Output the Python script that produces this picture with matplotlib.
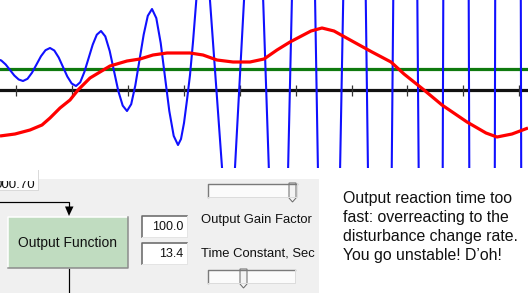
import matplotlib.pyplot as plt
from matplotlib.patches import Rectangle, Polygon

# chart data: x in samples (one per screen column), y in display units above the zero line
red_t = [0, 15, 30, 42, 50, 60, 70, 78, 90, 100, 110, 127, 140, 153, 167, 180, 190,
         203, 217, 233, 250, 264, 277, 290, 311, 322, 334, 352, 372, 391, 404, 424,
         442, 467, 486, 497, 512, 528]
red_v = [-46, -44, -40, -35, -28, -18, -10, 0, 12, 18, 24, 29, 31, 35, 37, 37, 37,
         35, 30, 28, 28, 31, 40, 48, 59, 62, 59, 49, 38, 28, 16, 0,
         -15, -32, -43, -47, -44, -38]

blue_t = [-3, 1.3, 5.7, 10, 14.3, 18.7,
          23, 27.5, 32, 36.5, 41, 45.5,
          50, 54.3, 58.7, 63, 67.3, 71.7,
          76, 80.2, 84.3, 88.5, 92.7, 96.8,
          101, 105.3, 109.7, 114, 118.3, 122.7,
          127, 131.2, 135.3, 139.5, 143.7, 147.8,
          152, 156.3, 160.7, 165, 169.3, 173.7,
          178, 181, 184, 187, 190, 193, 196, 199, 204,
          209.6, 222.4, 228.5, 234.7, 244.3, 253.5,
          263, 269, 278.5, 288, 292, 303.5,
          315, 318, 329, 340, 343.3, 354.5,
          365.7, 368, 380, 391.7, 393.3, 405,
          417.3, 418.7, 430.5, 442.7, 443.3, 456,
          468.7, 469.3, 482, 494.8, 495.2, 508,
          520.8, 521.2, 534]
blue_v = [31, 29.5, 25.5, 20, 14.5, 10.5,
          9, 11.2, 17.3, 25.5, 33.8, 39.8,
          42, 39.5, 32.5, 23, 13.5, 6.5,
          4, 7.7, 17.8, 31.5, 45.3, 55.3,
          59, 53.6, 39, 19, -1, -15.6,
          -21, -14.2, 4.5, 30, 55.5, 74.2,
          81, 71.9, 47, 13, -21, -45.9,
          -55, -49, -33, -10, 15, 48, 86, 125, 160,
          95, -83, -300, -83, 95, 300,
          95, -83, -300, -83, 95, 300,
          95, -83, -300, -83, 95, 300,
          95, -83, -300, -83, 95, 300,
          95, -83, -300, -83, 95, 300,
          95, -83, -300, -83, 95, 300,
          95, -83, -300]

setpoint = 21
tick_t = [16, 72, 128, 184, 240, 296, 352, 407, 463, 519]

prev_value = "000.70"
gain_value = "100.0"
tc_value = "13.4"
gain_label = "Output Gain Factor"
tc_label = "Time Constant, Sec"
button_label = "Output Function"
note_lines = ["Output reaction time too",
              "fast: overreacting to the",
              "disturbance change rate.",
              "You go unstable! D\u2019oh!"]

plt.rcParams['font.family'] = ['Liberation Sans', 'DejaVu Sans']

fig = plt.figure(figsize=(5.28, 2.93), dpi=100)

# control panel drawn in screen pixels
pan = fig.add_axes([0, 0, 1, 1])
pan.set_xlim(0, 528)
pan.set_ylim(293, 0)
pan.axis('off')

px = 0.72  # one pixel in points
pan.add_patch(Rectangle((0, 179), 319, 114, fc='#f0f0f0', ec='none'))

# clipped value box at top left
pan.add_patch(Rectangle((-2, 170), 40, 20, fc='white', ec='none'))
pan.plot([38, 38], [170, 190], color='#dadada', lw=px)
pan.plot([-2, 38], [190, 190], color='#dadada', lw=px)
clip = Rectangle((0, 181), 38, 10, transform=pan.transData)
t = pan.text(35.5, 188.5, prev_value, ha='right', va='baseline', fontsize=9.6,
             color='#111111', clip_on=True)
t.set_clip_path(clip)

# arrow into the button
pan.plot([0, 69, 69], [201.5, 201.5, 208], color='black', lw=px * 1.2)
pan.add_patch(Polygon([(65, 206.5), (73.5, 206.5), (69, 216)], fc='black', ec='none'))

# button
pan.add_patch(Rectangle((8, 217), 120, 51, fc='#c0dcc0', ec='none'))
pan.plot([8, 8, 128], [268, 217, 217], color='white', lw=px * 1.5)
pan.plot([8, 128, 128], [268, 268, 217], color='#8a8a8a', lw=px * 1.5)
pan.text(68, 243, button_label, ha='center', va='center', fontsize=10, color='#111111')
pan.plot([69, 69], [269, 293], color='black', lw=px * 1.2)

# numeric boxes
for y0, txt in [(216, gain_value), (243, tc_value)]:
    pan.add_patch(Rectangle((142, y0), 45, 21, fc='white', ec='none'))
    pan.plot([142, 142, 187], [y0 + 21, y0, y0], color='#6a6a6a', lw=px * 1.6)
    pan.plot([142, 187, 187], [y0 + 21, y0 + 21, y0], color='#e4e4e4', lw=px)
    pan.text(183.5, y0 + 11, txt, ha='right', va='center', fontsize=9, color='#111111')

pan.text(201, 220, gain_label, ha='left', va='center', fontsize=9.4, color='#111111')
pan.text(201, 254, tc_label, ha='left', va='center', fontsize=9.4, color='#111111')

# sliders
for (x0, y0, w, tx) in [(208, 184, 89, 289), (208, 270, 87, 240)]:
    pan.add_patch(Rectangle((x0, y0), w, 13, fc='#fbfbfb', ec='none'))
    pan.plot([x0, x0, x0 + w], [y0 + 13, y0, y0], color='#7a7a7a', lw=px * 1.4)
    pan.plot([x0, x0 + w, x0 + w], [y0 + 13, y0 + 13, y0], color='#dcdcdc', lw=px)
    thumb = [(tx, y0 - 1), (tx + 7, y0 - 1), (tx + 7, y0 + 14), (tx + 3.5, y0 + 18), (tx, y0 + 14)]
    pan.add_patch(Polygon(thumb, fc='#f4f4f4', ec='#6a6a6a', lw=px))

# note on the right
for i, line in enumerate(note_lines):
    pan.text(343, 198 + i * 19.3, line, ha='left', va='center', fontsize=11.4, color='#111111')

# chart
ax = fig.add_axes([0, 1 - 168 / 293, 1, 168 / 293])
ax.set_xlim(0, 528)
ax.set_ylim(-78, 90)
ax.axis('off')

ax.axhline(0, color='#111111', lw=2.3, zorder=1)
ax.vlines(tick_t, -6, 5, color='#333333', lw=0.9, zorder=1)
ax.axhline(setpoint, color='#0f7a0f', lw=2.3, zorder=2)
ax.plot(blue_t, blue_v, color='#1010ff', lw=1.5, zorder=3)
ax.plot(red_t, red_v, color='#ff0000', lw=2.3, zorder=4, solid_capstyle='butt')

fig.savefig('out.png', dpi=100)
